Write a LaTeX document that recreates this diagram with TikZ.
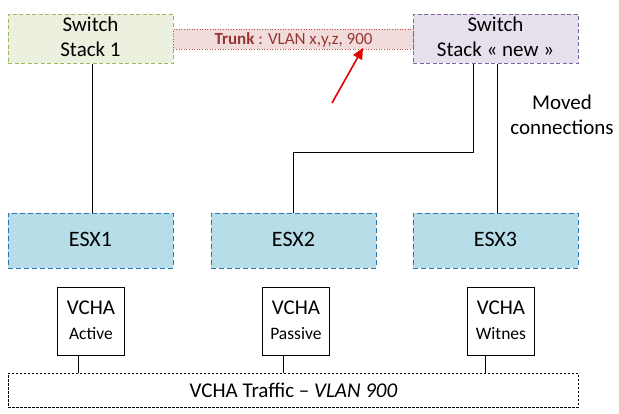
\documentclass[tikz,border=0pt]{standalone}
\usepackage{fontspec}
\setmainfont{Carlito}
\usetikzlibrary{arrows.meta}
\definecolor{swgreenfill}{HTML}{EBF1DE}
\definecolor{swgreenline}{HTML}{9BBB59}
\definecolor{swpurplefill}{HTML}{E6E0EC}
\definecolor{swpurpleline}{HTML}{8064A2}
\definecolor{trunkfill}{HTML}{F2DCDB}
\definecolor{trunkline}{HTML}{C0504D}
\definecolor{trunktext}{HTML}{953735}
\definecolor{esxfill}{HTML}{B7DDE8}
\definecolor{esxline}{HTML}{2E75B6}
\begin{document}
\begin{tikzpicture}[x=1pt,y=-1pt,
  box/.style={rectangle,inner sep=0pt,anchor=north west},
  switchbox/.style={box,line width=0.7pt,dash pattern=on 4pt off 2.5pt,
     minimum width=165pt,minimum height=49pt},
  bigtext/.style={font=\fontsize{21}{24}\selectfont,anchor=base,inner sep=0pt},
  esxbox/.style={box,draw=esxline,fill=esxfill,line width=0.9pt,dash pattern=on 5pt off 3pt,
     minimum width=165pt,minimum height=55pt},
  esxtext/.style={font=\fontsize{22}{24}\selectfont,anchor=base,inner sep=0pt},
  vchabox/.style={box,draw=black,line width=0.8pt,minimum width=67pt,minimum height=68pt},
  wire/.style={draw=black,line width=0.8pt}]
\useasboundingbox (0,0) rectangle (619,414);
\fill[white] (0,0) rectangle (619,414);
% switches
\node[switchbox,draw=swgreenline,fill=swgreenfill] (sw1) at (8,14) {};
\node[switchbox,draw=swpurpleline,fill=swpurplefill] (sw2) at (413,14) {};
\node[bigtext] (sw1a) at (90.5,32) {Switch};
\node[bigtext] (sw1b) at (90.5,57) {Stack 1};
\node[bigtext] (sw2a) at (495.5,32) {Switch};
\node[bigtext] (sw2b) at (495.5,57) {Stack « new »};
% trunk band
\node[box,draw=trunkline,fill=trunkfill,dotted,line width=0.6pt,minimum width=240pt,minimum height=20pt] (trunk) at (173,29) {};
\node[font=\fontsize{17}{20}\selectfont,text=trunktext,anchor=base,inner sep=0pt] (trunktxt) at (293.5,44.5) {\textbf{Trunk} : VLAN x,y,z, 900};
\coordinate (arrtail) at (332,103);
\coordinate (arrhead) at (363,48);
\draw[red!90!black,line width=1.6pt,-{Triangle[length=11pt,width=10pt]}] (arrtail) -- (arrhead);
% moved connections label
\node[font=\fontsize{21}{24}\selectfont,anchor=base,inner sep=0pt] (moveda) at (562,110) {Moved};
\node[font=\fontsize{21}{24}\selectfont,anchor=base,inner sep=0pt] (movedb) at (562,135) {connections};
% ESX
\node[esxbox] (esx1) at (8,213) {};
\node[esxbox] (esx2) at (211,213) {};
\node[esxbox] (esx3) at (413,213) {};
\node[esxtext] at (90.5,247) {ESX1};
\node[esxtext] at (293.5,247) {ESX2};
\node[esxtext] at (495.5,247) {ESX3};
% VCHA
\node[vchabox] (v1) at (57,287) {};
\node[vchabox] (v2) at (262,287) {};
\node[vchabox] (v3) at (467,287) {};
\foreach \v/\t in {v1/Active,v2/Passive,v3/Witnes}{
  \node[font=\fontsize{21}{24}\selectfont,anchor=base,inner sep=0pt] at ([yshift=-28pt]\v.north) {VCHA};
  \node[font=\fontsize{17.5}{20}\selectfont,anchor=base,inner sep=0pt] at ([yshift=-53pt]\v.north) {\t};
}
% traffic
\node[box,draw=black,line width=0.6pt,dash pattern=on 2.5pt off 1.5pt,minimum width=570pt,minimum height=34pt] (traffic) at (8,373) {};
\node[font=\fontsize{21}{24}\selectfont,anchor=base,inner sep=0pt] (traffictxt) at (293.5,397) {VCHA Traffic -- \textit{VLAN 900}};
% wires
\draw[wire] (sw1.south -| 92,0) -- (esx1.north -| 92,0);
\draw[wire] (sw2.south -| 473,0) |- (293,152) -- (esx2.north -| 293,0);
\draw[wire] (sw2.south -| 497,0) -- (esx3.north -| 497,0);
\draw[wire] (v1.south -| 78,0) -- (traffic.north -| 78,0);
\draw[wire] (v2.south -| 283,0) -- (traffic.north -| 283,0);
\draw[wire] (v3.south -| 485,0) -- (traffic.north -| 485,0);
\end{tikzpicture}
\end{document}
